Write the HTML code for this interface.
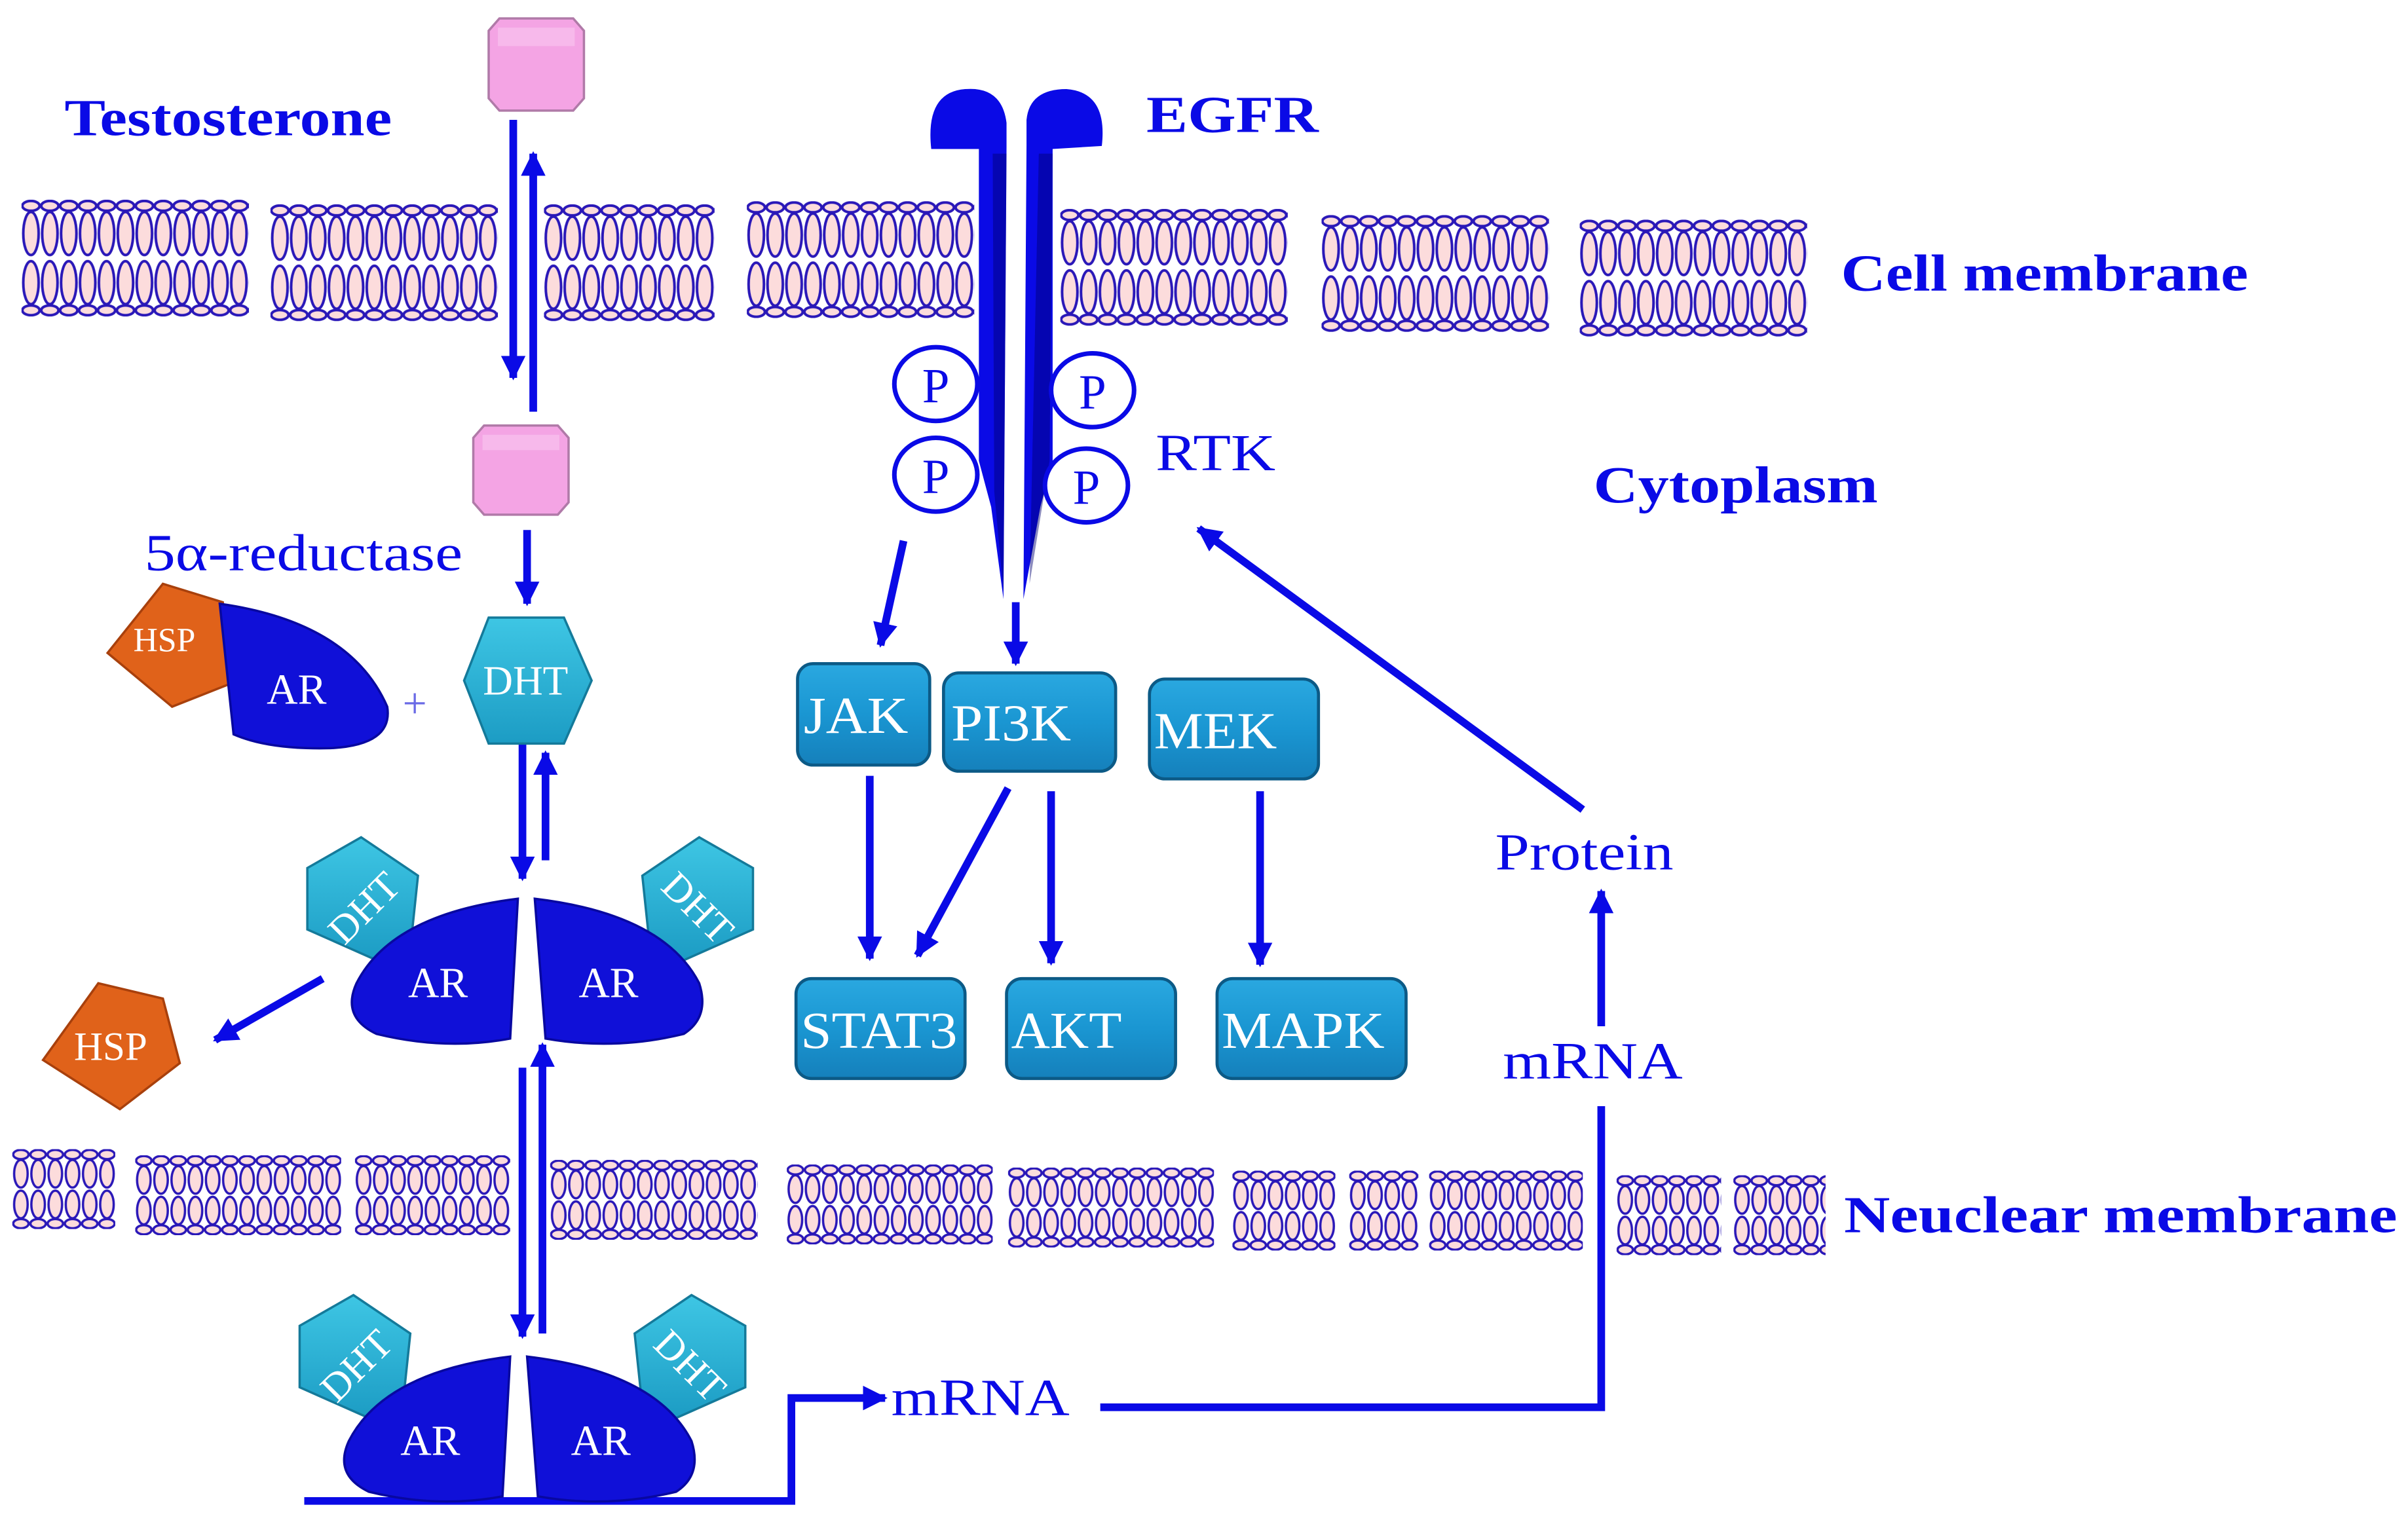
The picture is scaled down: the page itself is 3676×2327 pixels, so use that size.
<!DOCTYPE html>
<html><head><meta charset="utf-8"><style>html,body{margin:0;padding:0;background:#fff}svg{display:block}</style></head>
<body>
<svg width="3676" height="2327" viewBox="0 0 1567 992" preserveAspectRatio="none" xmlns="http://www.w3.org/2000/svg" font-family="Liberation Serif, serif">
<defs>
<pattern id="mem" width="12.3" height="76" patternUnits="userSpaceOnUse">
<g fill="#fcdcdc" stroke="#2a18b8" stroke-width="1.7">
<ellipse cx="6.15" cy="4" rx="5.6" ry="3.2"/>
<ellipse cx="6.15" cy="22" rx="5" ry="14"/>
<ellipse cx="6.15" cy="54" rx="5" ry="14"/>
<ellipse cx="6.15" cy="72" rx="5.6" ry="3.2"/>
</g></pattern>
<pattern id="nmem" width="11.2" height="52" patternUnits="userSpaceOnUse">
<g fill="#fcdcdc" stroke="#2a18b8" stroke-width="1.5">
<ellipse cx="5.6" cy="3.5" rx="5" ry="3"/>
<ellipse cx="5.6" cy="16" rx="4.4" ry="9"/>
<ellipse cx="5.6" cy="36" rx="4.4" ry="9"/>
<ellipse cx="5.6" cy="48.5" rx="5" ry="3"/>
</g></pattern>
<linearGradient id="kin" x1="0" y1="0" x2="0" y2="1">
<stop offset="0" stop-color="#2aa8e0"/><stop offset="0.5" stop-color="#1a96d2"/><stop offset="1" stop-color="#1580bb"/></linearGradient>
<linearGradient id="dht" x1="0" y1="0" x2="0" y2="1">
<stop offset="0" stop-color="#3ec6e4"/><stop offset="1" stop-color="#1c9cc4"/></linearGradient>
<marker id="ah" viewBox="0 0 10 10" refX="9" refY="5" markerWidth="16" markerHeight="16" markerUnits="userSpaceOnUse" orient="auto">
<path d="M0,0 L10,5 L0,10 Z" fill="#0a0ae6"/></marker>
</defs>

<!-- cell membrane -->
<g transform="translate(14,130)"><rect width="148" height="76" fill="url(#mem)"/></g>
<g transform="translate(176,133)"><rect width="148" height="76" fill="url(#mem)"/></g>
<g transform="translate(354,133)"><rect width="111" height="76" fill="url(#mem)"/></g>
<g transform="translate(486,131)"><rect width="148" height="76" fill="url(#mem)"/></g>
<g transform="translate(690,136)"><rect width="148" height="76" fill="url(#mem)"/></g>
<g transform="translate(860,140)"><rect width="148" height="76" fill="url(#mem)"/></g>
<g transform="translate(1028,143)"><rect width="148" height="76" fill="url(#mem)"/></g>

<!-- nuclear membrane -->
<g transform="translate(8,748)"><rect width="67" height="52" fill="url(#nmem)"/></g>
<g transform="translate(88,752)"><rect width="134" height="52" fill="url(#nmem)"/></g>
<g transform="translate(231,752)"><rect width="101" height="52" fill="url(#nmem)"/></g>
<g transform="translate(358,755)"><rect width="135" height="52" fill="url(#nmem)"/></g>
<g transform="translate(512,758)"><rect width="134" height="52" fill="url(#nmem)"/></g>
<g transform="translate(656,760)"><rect width="134" height="52" fill="url(#nmem)"/></g>
<g transform="translate(802,762)"><rect width="67" height="52" fill="url(#nmem)"/></g>
<g transform="translate(878,762)"><rect width="45" height="52" fill="url(#nmem)"/></g>
<g transform="translate(930,762)"><rect width="100" height="52" fill="url(#nmem)"/></g>
<g transform="translate(1052,765)"><rect width="68" height="52" fill="url(#nmem)"/></g>
<g transform="translate(1128,765)"><rect width="60" height="52" fill="url(#nmem)"/></g>

<!-- labels -->
<g fill="#0a0ae6" font-weight="bold" font-size="34">
<text x="42" y="88" textLength="213" lengthAdjust="spacingAndGlyphs">Testosterone</text>
<text x="746" y="86" textLength="112" lengthAdjust="spacingAndGlyphs">EGFR</text>
<text x="1198" y="189" textLength="265" lengthAdjust="spacingAndGlyphs">Cell membrane</text>
<text x="1037" y="327" textLength="185" lengthAdjust="spacingAndGlyphs">Cytoplasm</text>
<text x="1200" y="802" textLength="360" lengthAdjust="spacingAndGlyphs">Neuclear  membrane</text>
</g>
<g fill="#0a0ae6" font-size="34">
<text x="752" y="306" textLength="78" lengthAdjust="spacingAndGlyphs">RTK</text>
<text x="94" y="371" textLength="207" lengthAdjust="spacingAndGlyphs">5α-reductase</text>
<text x="973" y="566" textLength="116" lengthAdjust="spacingAndGlyphs">Protein</text>
<text x="978" y="702" textLength="117" lengthAdjust="spacingAndGlyphs">mRNA</text>
<text x="580" y="921" textLength="116" lengthAdjust="spacingAndGlyphs">mRNA</text>
<text x="262" y="467" font-size="28" fill="#6a6ae6">+</text>
</g>

<!-- testosterone molecules -->
<g fill="#f4a4e4" stroke="#b07aa8" stroke-width="1.5">
<polygon points="325,12 373,12 380,20 380,64 373,72 325,72 318,64 318,20"/>
<polygon points="315,277 363,277 370,285 370,327 363,335 315,335 308,327 308,285"/>
</g>
<rect x="324" y="18" width="50" height="12" fill="#f8c8f0" opacity="0.6"/>
<rect x="314" y="283" width="50" height="10" fill="#f8c8f0" opacity="0.6"/>

<!-- arrows -->
<g stroke="#0a0ae6" stroke-width="5" fill="none">
<line x1="334" y1="78" x2="334" y2="246" marker-end="url(#ah)"/>
<line x1="347" y1="268" x2="347" y2="100" marker-end="url(#ah)"/>
<line x1="343" y1="345" x2="343" y2="393" marker-end="url(#ah)"/>
<line x1="340" y1="482" x2="340" y2="572" marker-end="url(#ah)"/>
<line x1="355" y1="560" x2="355" y2="490" marker-end="url(#ah)"/>
<line x1="210" y1="637" x2="140" y2="677" marker-end="url(#ah)"/>
<line x1="340" y1="695" x2="340" y2="870" marker-end="url(#ah)"/>
<line x1="353" y1="868" x2="353" y2="680" marker-end="url(#ah)"/>
<line x1="588" y1="352" x2="573" y2="420" marker-end="url(#ah)"/>
<line x1="661" y1="392" x2="661" y2="432" marker-end="url(#ah)"/>
<line x1="566" y1="505" x2="566" y2="624" marker-end="url(#ah)"/>
<line x1="656" y1="513" x2="597" y2="622" marker-end="url(#ah)"/>
<line x1="684" y1="515" x2="684" y2="627" marker-end="url(#ah)"/>
<line x1="820" y1="515" x2="820" y2="628" marker-end="url(#ah)"/>
<line x1="1030" y1="527" x2="780" y2="344" marker-end="url(#ah)"/>
<polyline points="198,977 515,977 515,910 576,910" marker-end="url(#ah)"/>
<polyline points="716,916 1042,916 1042,720"/>
<line x1="1042" y1="668" x2="1042" y2="580" marker-end="url(#ah)"/>
</g>

<!-- EGFR -->
<g fill="#0a0ae6">
<path d="M606,97 Q602,60 628,58 Q652,56 655,80 L655,95 L653,390 L645,330 L637,300 L637,97 Z"/>
<path d="M717,95 Q721,60 694,58 Q670,58 668,78 L668,95 L666,390 L677,330 L685,300 L685,97 Z"/>
</g>
<path d="M646,100 L655,100 L653,385 L647,320 Z" fill="#000070" opacity="0.45"/>
<path d="M676,100 L685,100 L683,300 L670,380 Z" fill="#000070" opacity="0.45"/>

<!-- P circles -->
<g fill="#fff" stroke="#0a0ae6" stroke-width="3">
<ellipse cx="609" cy="250" rx="27" ry="24"/>
<ellipse cx="711" cy="254" rx="27" ry="24"/>
<ellipse cx="609" cy="309" rx="27" ry="24"/>
<ellipse cx="707" cy="316" rx="27" ry="24"/>
</g>
<g fill="#0a0ae6" font-size="32" text-anchor="middle">
<text x="609" y="262">P</text><text x="711" y="266">P</text>
<text x="609" y="321">P</text><text x="707" y="328">P</text>
</g>

<!-- HSP + AR top -->
<polygon points="106,380 145,392 150,445 112,460 70,425" fill="#e0621a" stroke="#a8400c" stroke-width="1.5"/>
<text x="107" y="424" fill="#fff" font-size="22" text-anchor="middle">HSP</text>
<path d="M143,393 Q228,405 252,460 Q256,485 215,487 Q175,488 152,478 Z" fill="#1010d8" stroke="#0808a0" stroke-width="1.5"/>
<text x="193" y="458" fill="#fff" font-size="28" text-anchor="middle">AR</text>
<polygon points="318,402 367,402 385,443 367,484 318,484 302,443" fill="url(#dht)" stroke="#147a9a" stroke-width="1.5"/>
<text x="342" y="452" fill="#fff" font-size="27" text-anchor="middle">DHT</text>

<!-- HSP released -->
<polygon points="64,640 106,650 117,692 78,722 28,690" fill="#e0621a" stroke="#a8400c" stroke-width="1.5"/>
<text x="72" y="690" fill="#fff" font-size="26" text-anchor="middle">HSP</text>

<!-- middle dimer -->
<g id="dimer">
<polygon points="200,565 235,545 272,570 268,608 245,625 200,605" fill="url(#dht)" stroke="#147a9a" stroke-width="1.5"/>
<polygon points="490,565 455,545 418,570 422,608 445,625 490,605" fill="url(#dht)" stroke="#147a9a" stroke-width="1.5"/>
<text x="236" y="600" fill="#fff" font-size="26" text-anchor="middle" transform="rotate(-45 236 590)">DHT</text>
<text x="455" y="600" fill="#fff" font-size="26" text-anchor="middle" transform="rotate(45 455 590)">DHT</text>
<path d="M337,585 L332,676 Q290,684 245,673 Q222,662 232,640 Q255,595 337,585 Z" fill="#1010d8" stroke="#0808a0" stroke-width="1.5"/>
<path d="M348,585 L355,676 Q400,684 445,673 Q462,662 455,640 Q432,595 348,585 Z" fill="#1010d8" stroke="#0808a0" stroke-width="1.5"/>
<text x="285" y="649" fill="#fff" font-size="28" text-anchor="middle">AR</text>
<text x="396" y="649" fill="#fff" font-size="28" text-anchor="middle">AR</text>
</g>
<use href="#dimer" transform="translate(-5,298)"/>

<!-- kinase boxes -->
<g stroke="#0c5a86" stroke-width="2" fill="url(#kin)">
<rect x="519" y="432" width="86" height="66" rx="10"/>
<rect x="614" y="438" width="112" height="64" rx="10"/>
<rect x="748" y="442" width="110" height="65" rx="10"/>
<rect x="518" y="637" width="110" height="65" rx="10"/>
<rect x="655" y="637" width="110" height="65" rx="10"/>
<rect x="792" y="637" width="123" height="65" rx="10"/>
</g>
<g fill="#fff" font-size="34">
<text x="523" y="477" textLength="68" lengthAdjust="spacingAndGlyphs">JAK</text>
<text x="619" y="482" textLength="78" lengthAdjust="spacingAndGlyphs">PI3K</text>
<text x="751" y="487" textLength="80" lengthAdjust="spacingAndGlyphs">MEK</text>
<text x="521" y="682" textLength="102" lengthAdjust="spacingAndGlyphs">STAT3</text>
<text x="658" y="682" textLength="72" lengthAdjust="spacingAndGlyphs">AKT</text>
<text x="795" y="682" textLength="106" lengthAdjust="spacingAndGlyphs">MAPK</text>
</g>
</svg>
</body></html>
